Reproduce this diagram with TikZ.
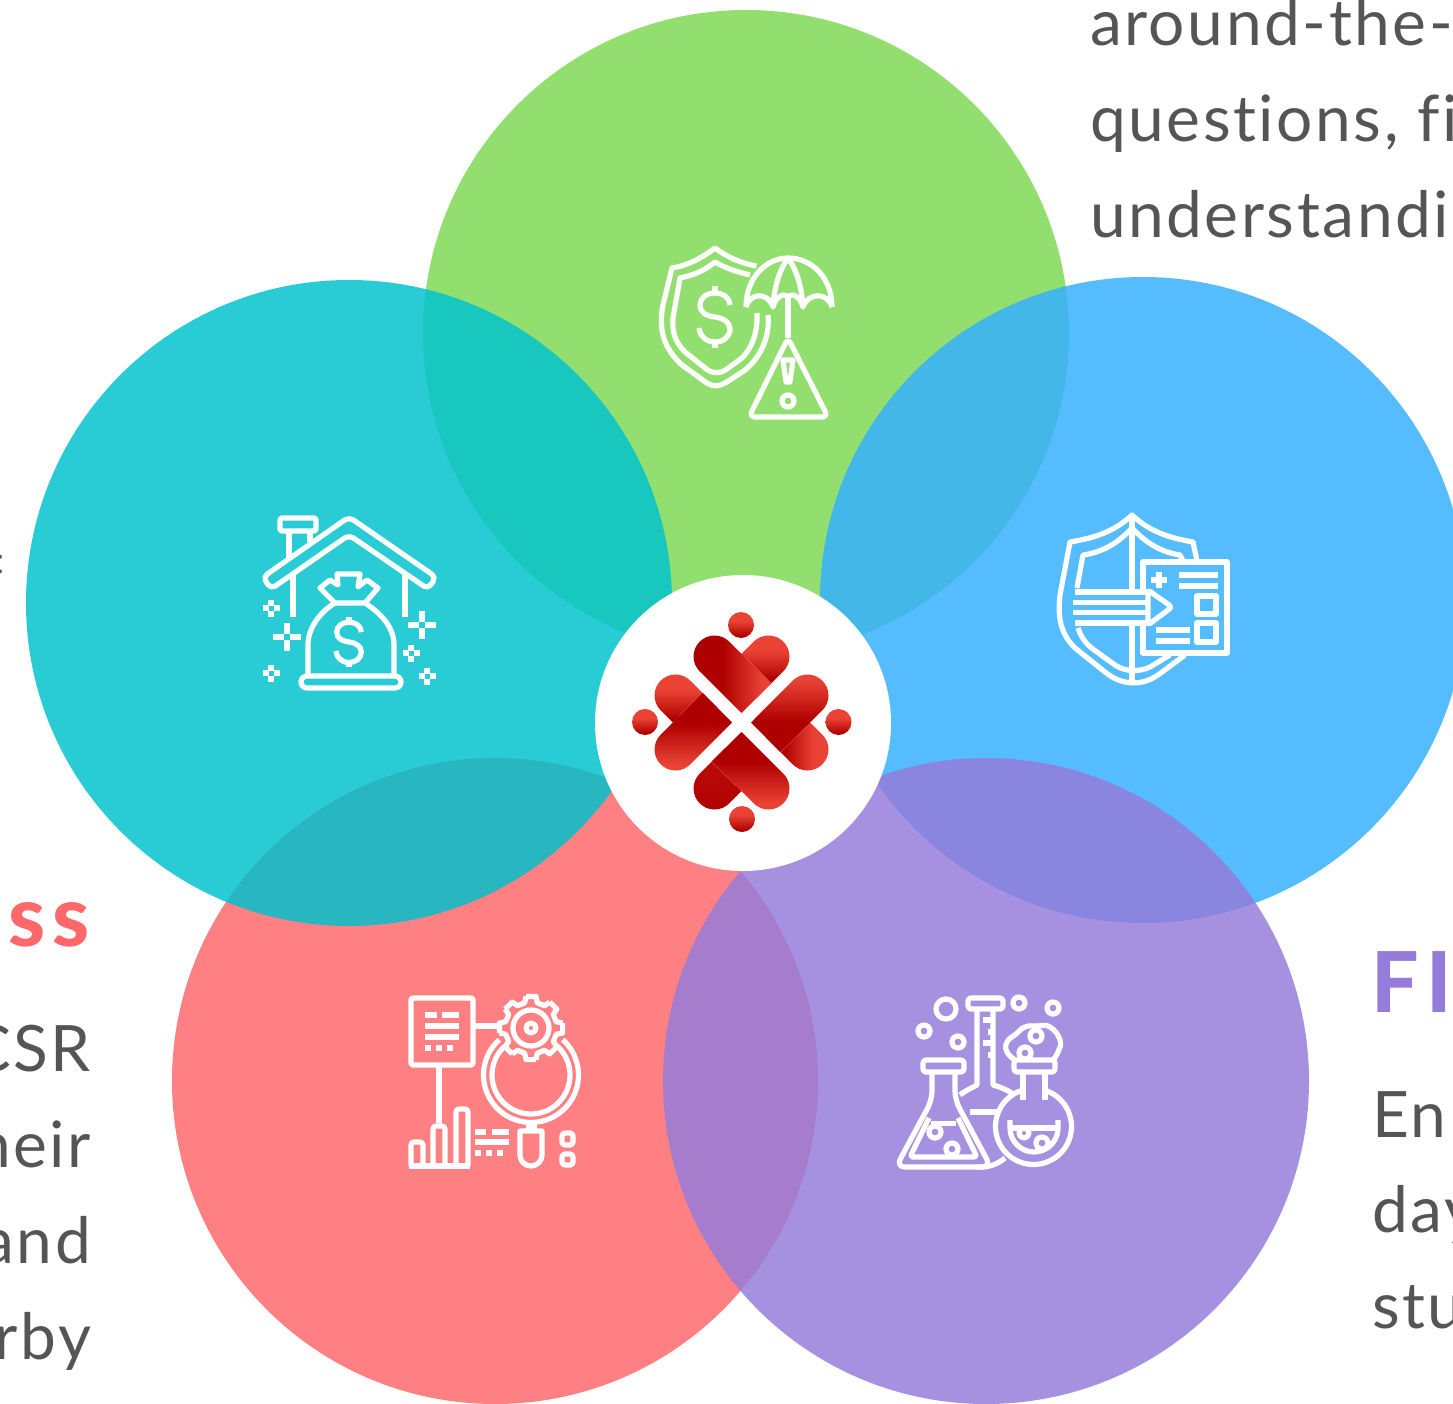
\documentclass[tikz,border=0pt]{standalone}
\usepackage{fontspec}
\setmainfont{Lato}[LetterSpace=4,Ligatures={NoCommon,NoRequired,NoContextual}]
\newfontfamily\headfont{Lato Heavy}[LetterSpace=9]
\definecolor{cgreen}{RGB}{125,217,85}
\definecolor{cblue}{RGB}{53,176,255}
\definecolor{cteal}{RGB}{0,194,205}
\definecolor{cred}{RGB}{255,104,107}
\definecolor{cpurple}{RGB}{149,124,219}
\definecolor{ctext}{RGB}{85,85,85}
\definecolor{hdark}{RGB}{174,0,0}
\definecolor{hbright}{RGB}{234,67,53}
\pgfdeclareverticalshading{hglong}{100bp}{color(0bp)=(hdark); color(44bp)=(hdark); color(70bp)=(hbright); color(100bp)=(hbright)}
\pgfdeclareverticalshading{hgshort}{100bp}{color(0bp)=(hdark); color(28bp)=(hdark); color(58bp)=(hbright); color(100bp)=(hbright)}
\tikzset{
  petal/.style={fill opacity=0.84},
  ico/.style={draw=white,line width=5.2pt,line join=round,fill=none},
  body/.style={text=ctext,font=\fontsize{64}{64}\selectfont,inner sep=0pt,outer sep=0pt},
  headtext/.style={font=\headfont\fontsize{84}{84}\selectfont,inner sep=0pt,outer sep=0pt},
  glong/.style={shading=hglong,shading angle=#1},
  gshort/.style={shading=hgshort,shading angle=#1},
}
\newcommand{\HP}[3]{({741.5+(#1)*cos(#3)-(#2)*sin(#3)},{722.5+(#1)*sin(#3)+(#2)*cos(#3)})}
\newcommand{\myheart}[3]{%
  \shade[#3] \HP{0}{-68.7}{#1} -- \HP{12.15}{-80.85}{#1} arc[start angle={225+#1},end angle={405+#1},radius=21] -- \HP{29.85}{-39.15}{#1} -- cycle;
  \shade[#2] \HP{0}{-9.5}{#1} -- \HP{-41.85}{-51.15}{#1} arc[start angle={135+#1},end angle={315+#1},radius=21] -- \HP{29.85}{-38.85}{#1} -- cycle;
}
\newcommand{\dollarsign}[3]{%
  \begin{scope}[shift={(#1,#2)},scale=#3]
    \draw[ico] (15,-12) .. controls (14,-21) and (7,-24) .. (0,-24) .. controls (-9,-24) and (-15,-19) .. (-15,-12)
      .. controls (-15,-4) and (-8,-1) .. (0,0) .. controls (8,1) and (15,5) .. (15,12)
      .. controls (15,20) and (8,25) .. (0,25) .. controls (-9,25) and (-15,19) .. (-16,11);
    \draw[ico] (0,-24) -- (0,-31) (0,25) -- (0,31);
  \end{scope}}
\newcommand{\sparkbig}[2]{\draw[ico] (#1-14,#2) -- (#1-3,#2) (#1+3,#2) -- (#1+14,#2) (#1,#2-14) -- (#1,#2-3) (#1,#2+3) -- (#1,#2+14);}
\newcommand{\sparksmall}[2]{\draw[ico] (#1-8.5,#2) -- (#1-2.5,#2) (#1+2.5,#2) -- (#1+8.5,#2) (#1,#2-8.5) -- (#1,#2-2.5) (#1,#2+2.5) -- (#1,#2+8.5);}
\begin{document}
\begin{tikzpicture}[x=1pt,y=-1pt]
\useasboundingbox (0,0) rectangle (1453,1404);
\begin{scope}
\clip (0,0) rectangle (1453,1404);
% texts
\node[body,anchor=base west] (t1) at (1090,46) {around-the-};
\node[body,anchor=base west] (t2) at (1090,142) {questions, fi};
\node[body,anchor=base west] (t3) at (1090,238) {understandi};
\node[headtext,text=cred,anchor=base east] (h1) at (90,946) {ess};
\node[body,anchor=base east] (l1) at (91,1071) {CSR};
\node[body,anchor=base east] (l2) at (91,1167) {heir};
\node[body,anchor=base east] (l3) at (91,1263) {and};
\node[body,anchor=base east] (l4) at (91,1359) {rby};
\fill[ctext] (0,555) rectangle (1.5,558.5) (0,569.5) rectangle (1.5,573);
\node[headtext,text=cpurple,anchor=base west] (h2) at (1371,1012) {FI};
\node[body,anchor=base west] (r1) at (1372,1137) {En};
\node[body,anchor=base west] (r2) at (1372,1232) {day};
\node[body,anchor=base west] (r3) at (1372,1328) {stu};
% petals
\fill[petal,cgreen] (746,333) circle (323);
\fill[petal,cblue] (1143,600) circle (323);
\fill[petal,cred] (495,1081) circle (323);
\fill[petal,cteal] (349,603) circle (323);
\fill[petal,cpurple] (986,1081) circle (323);
\fill[white] (743,723) circle (148);
\end{scope}
% logo
\myheart{0}{glong=-90}{gshort=0}
\myheart{90}{glong=0}{gshort=-90}
\myheart{180}{glong=180}{top color=hdark!80!hbright,bottom color=hdark}
\myheart{270}{glong=180}{gshort=0}
\foreach \cx/\cy in {741/625,838.5/722,645/722,742/819}{
  \shade[gshort=0] (\cx,\cy) circle (13);
}
% --- green icon
\draw[ico] (756.5,266) .. controls (740,263) and (727,257) .. (715,248) .. controls (703,257) and (690,265) .. (672,268)
  -- (663,305) .. controls (657,335) and (668,352) .. (682,365) -- (700,378) .. controls (712,388) and (718,388) .. (730,380)
  -- (745,370) .. controls (762,356) and (770,335) .. (768,315);
\draw[ico] (750,275) .. controls (737,272) and (725,268) .. (715,262) .. controls (705,270) and (695,275) .. (680,278)
  -- (673,318) .. controls (672,332) and (675,342) .. (685,352) -- (705,368) .. controls (712,374) and (720,374) .. (727,369)
  -- (742,358) .. controls (752,348) and (758,332) .. (757,313);
\dollarsign{715}{317}{1}
\draw[ico] (746,307) .. controls (746,278) and (766,258) .. (788,258) .. controls (812,258) and (832,278) .. (832,307);
\draw[ico] (746,307) .. controls (750,292) and (768,292) .. (773,307) .. controls (776,295) and (786,292) .. (788,298) .. controls (790,292) and (800,295) .. (803,307)
  .. controls (808,292) and (828,292) .. (832,307);
\draw[ico] (788,258) .. controls (778,272) and (774,290) .. (773,307) (788,258) .. controls (798,272) and (802,290) .. (803,307);
\draw[ico] (788,298) -- (788,338);
\draw[ico,rounded corners=6pt] (788,338) -- (749,417) -- (828,417) -- cycle;
\draw[ico] (783,360) -- (793,360) -- (790,382) -- (786,382) -- cycle;
\draw[ico] (788,401) circle (6);
% --- teal icon
\draw[ico,rounded corners=5pt] (263,577) -- (349,517) -- (436,577) -- (428,589) -- (349,535) -- (271,589) -- cycle;
\draw[ico,rounded corners=2pt] (280,518) rectangle (316,531);
\draw[ico] (289,531) -- (289,558) (310,531) -- (310,542);
\draw[ico] (293,575) -- (293,617) (405,575) -- (405,617);
\draw[ico,rounded corners=6pt] (301,676) rectangle (401,688);
\draw[ico] (308,676) -- (308,645) .. controls (308,628) and (320,612) .. (335,603) -- (365,603) .. controls (382,614) and (394,628) .. (394,645) -- (394,676);
\draw[ico] (335,603) -- (320,588) -- (330,580) -- (338,585) -- (337,574) -- (360,574) -- (358,587) -- (367,580) -- (378,588) -- (365,603);
\dollarsign{349}{642}{0.82}
\sparkbig{287}{637}
\sparkbig{422}{625}
\sparksmall{271}{608}
\sparksmall{271}{673}
\sparksmall{411}{653}
\sparksmall{427}{676}
% --- blue icon
\draw[ico] (1197,561) -- (1193,542) .. controls (1170,538) and (1150,532) .. (1132,515) .. controls (1114,532) and (1094,538) .. (1070,542)
  -- (1060,595) .. controls (1057,620) and (1062,635) .. (1075,648) -- (1105,672) .. controls (1122,686) and (1142,686) .. (1158,675) -- (1185,655);
\draw[ico] (1183,561) -- (1180,555) .. controls (1160,552) and (1145,542) .. (1132,528) .. controls (1119,542) and (1104,552) .. (1083,555) -- (1077,588);
\draw[ico] (1078,628) .. controls (1082,640) and (1088,646) .. (1097,652) -- (1115,665) .. controls (1125,672) and (1140,672) .. (1150,667) -- (1170,655);
\draw[ico] (1132,515) -- (1132,590) (1132,626) -- (1132,683);
\draw[ico] (1075,592) -- (1148,592) (1073,602.5) -- (1146,602.5) (1073,612.5) -- (1146,612.5) (1075,623) -- (1148,623);
\draw[ico,rounded corners=3pt] (1148,590) -- (1172,607) -- (1148,625) -- cycle;
\draw[ico] (1143,590) -- (1143,562) -- (1227,562) -- (1227,653) -- (1143,653) -- (1143,626);
\draw[ico] (1151,580) -- (1167,580) (1159,572) -- (1159,588);
\draw[ico] (1179,575) -- (1218,575) (1179,586) -- (1218,586) (1156,630) -- (1190,630) (1156,641) -- (1190,641);
\draw[ico] (1197,596) rectangle (1216,614) (1197,623) rectangle (1216,642);
% --- red icon
\draw[ico,rounded corners=2pt] (411,998) rectangle (473,1065);
\draw[ico] (425,1015) -- (437,1015) (442,1015) -- (459,1015) (425,1026) -- (459,1026) (425,1037) -- (459,1037)
  (425,1048) -- (431,1048) (436,1048) -- (442,1048) (447,1048) -- (453,1048);
\draw[ico] (473,1026) -- (500,1026) (439,1065) -- (439,1123);
\foreach \g in {0,45,...,315}{
  \draw[ico] ({531+32*cos(\g-9)},{1028+32*sin(\g-9)}) -- ({531+32*cos(\g+9)},{1028+32*sin(\g+9)}) -- ({531+26*cos(\g+14)},{1028+26*sin(\g+14)}) -- ({531+26*cos(\g+31)},{1028+26*sin(\g+31)}) -- ({531+32*cos(\g+36)},{1028+32*sin(\g+36)});
}
\draw[ico] (531,1028) circle (18) (531,1028) circle (5);
\draw[ico] ({531+47.5*cos(228)},{1075+47.5*sin(228)}) arc[start angle=228,end angle=-48,radius=47.5];
\draw[ico] ({531+39*cos(228)},{1075+39*sin(228)}) arc[start angle=228,end angle=-48,radius=39];
\draw[ico] (529,1123) -- (529,1130) (534,1123) -- (534,1130);
\draw[ico] (520,1131) -- (542,1131) -- (542,1155) arc[start angle=0,end angle=180,radius=11] -- cycle;
\draw[ico,rounded corners=3pt] (411,1166) -- (411,1142) -- (423,1142) -- (423,1166);
\draw[ico,rounded corners=3pt] (433,1166) -- (433,1126) -- (445,1126) -- (445,1166);
\draw[ico,rounded corners=3pt] (456,1166) -- (456,1109) -- (468,1109) -- (468,1166);
\draw[ico] (409,1166) -- (470,1166);
\draw[ico] (475,1132) -- (486,1132) (492,1132) -- (509,1132) (475,1142) -- (509,1142)
  (475,1153) -- (481,1153) (486,1153) -- (492,1153) (497,1153) -- (503,1153);
\draw[ico,rounded corners=3pt] (562,1133) rectangle (573,1145) (562,1154) rectangle (573,1165);
% --- purple icon
\draw[ico] (946,1009) circle (10) (924,1031) circle (6) (958,1042) circle (6) (1019,1003) circle (6) (1053,1008) circle (6);
\draw[ico,rounded corners=3pt] (968,998) rectangle (1003,1009);
\draw[ico] (977,1009) -- (977,1085) .. controls (971,1088) and (965,1091) .. (960,1095);
\draw[ico] (993,1009) -- (993,1085) .. controls (1001,1087) and (1009,1091) .. (1015,1095);
\draw[ico] (983,1020) -- (993,1020) (988,1032) -- (993,1032) (983,1043) -- (993,1043) (988,1055) -- (993,1055);
\draw[ico] (970,1112) -- (1000,1112);
\draw[ico] (977,1167) .. controls (988,1168) and (998,1164) .. (1005,1158);
\draw[ico,rounded corners=3pt] (923,1060) rectangle (964,1072);
\draw[ico,rounded corners=9pt] (932,1072) -- (932,1100) -- (896,1167) -- (991,1167) -- (955,1100) -- (955,1072);
\draw[ico,rounded corners=3pt] (929,1118) -- (910,1157) -- (977,1157) -- (958,1118);
\draw[ico] (931,1123.5) -- (956,1123.5);
\draw[ico] (935,1132) circle (6) (952,1149) circle (6);
\draw[ico] (1023,1072) -- (1023,1100) (1045,1072) -- (1045,1100);
\draw[ico,rounded corners=3pt] (1014,1060) rectangle (1055,1072);
\draw[ico] ({1033.5+38*cos(286)},{1126.5+38*sin(286)}) arc[start angle=286,end angle=614,radius=38];
\draw[ico] (1010,1128) -- (1058,1128);
\draw[ico] (1010,1120) -- (1010,1128) arc[start angle=180,end angle=0,radius=24] -- (1058,1120);
\draw[ico] (1024,1133) circle (5) (1042,1143) circle (6);
\draw[ico] plot[smooth,tension=0.8] coordinates {(1015,1060) (1007,1052) (1007,1042) (1016,1034) (1025,1027) (1037,1026) (1050,1027) (1060,1040) (1058,1052) (1053,1060)};
\draw[ico] (1036,1036) circle (6) (1025,1053) circle (6);
\end{tikzpicture}
\end{document}
